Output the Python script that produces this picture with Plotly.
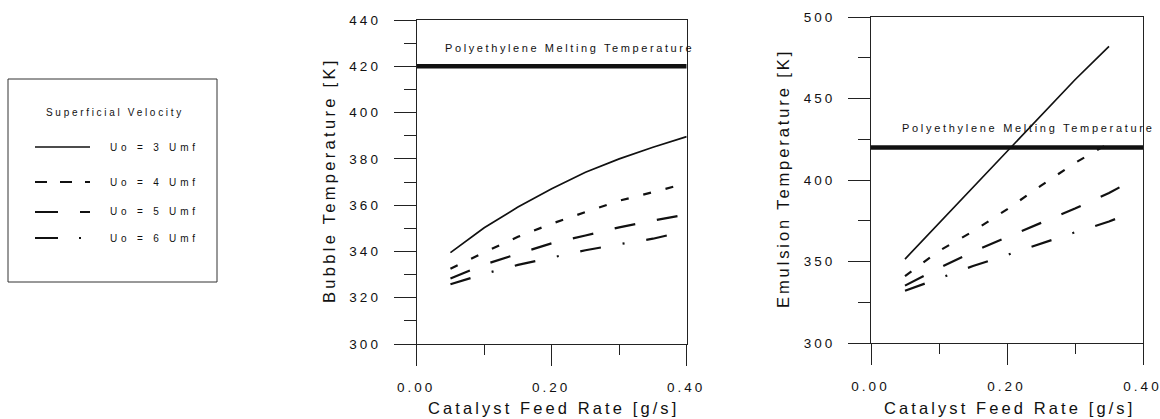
import plotly.graph_objects as go

W, H = 1160, 419

# ---------------- data ----------------
# Left panel: Bubble Temperature [K] vs catalyst feed rate [g/s]
bubble_x = [0.05, 0.10, 0.15, 0.20, 0.25, 0.30, 0.35, 0.40]
bubble_x_6 = [0.05, 0.10, 0.15, 0.20, 0.25, 0.30, 0.35, 0.375]
bubble_u3 = [339.5, 350.2, 359.2, 367.1, 374.2, 380.0, 385.0, 389.6]
bubble_u4 = [332.5, 339.6, 346.3, 352.0, 357.0, 361.9, 365.6, 369.5]
bubble_u5 = [328.3, 334.3, 339.0, 343.5, 346.9, 350.4, 353.3, 356.0]
bubble_u6 = [325.8, 330.3, 334.2, 337.5, 340.5, 343.1, 345.5, 347.2]

# Right panel: Emulsion Temperature [K] vs catalyst feed rate [g/s]
emul_x_3 = [0.05, 0.10, 0.15, 0.20, 0.25, 0.30, 0.35]
emul_u3 = [351.5, 373.5, 395.5, 417.5, 439.5, 461.5, 482.0]
emul_x_4 = [0.05, 0.10, 0.15, 0.20, 0.25, 0.30, 0.35, 0.36]
emul_u4 = [341.0, 356.5, 368.5, 382.0, 396.5, 410.5, 422.5, 425.0]
emul_x_5 = [0.05, 0.10, 0.15, 0.20, 0.25, 0.30, 0.35, 0.37]
emul_u5 = [335.2, 346.0, 356.0, 365.0, 373.7, 382.5, 392.0, 396.5]
emul_x_6 = [0.05, 0.10, 0.15, 0.20, 0.25, 0.30, 0.35, 0.365]
emul_u6 = [332.0, 339.8, 347.2, 354.0, 361.0, 367.9, 374.5, 377.0]

melt_x = [0.0, 0.4]
melt_temp = [420, 420]

series_names = ["Uo = 3 Umf", "Uo = 4 Umf", "Uo = 5 Umf", "Uo = 6 Umf"]

x_tickvals = [0.0, 0.2, 0.4]
x_ticktext = ["0.00", "0.20", "0.40"]
yl_tickvals = [300, 320, 340, 360, 380, 400, 420, 440]
yr_tickvals = [300, 350, 400, 450, 500]

# ---------------- styling ----------------
FONT = "Liberation Sans, Arial, Helvetica, sans-serif"
INK = "#111111"
AX = "#222222"
dash_styles = ["solid", "8px,15px", "21px,22px", "21px,22px,2px,22px"]
line_widths = [1.7, 2.2, 2.2, 2.2]
legend_dashes = ["solid", "12px,13px", "23px,22px", "23px,21px,2px,20px"]


def sp(t, ls):
    # letter-spaced text without trailing spacing after the last glyph
    t = str(t)
    return f'<span style="letter-spacing:{ls}px">{t[:-1]}</span>{t[-1]}'


def px_x(p):
    return p / W


def px_y(p):
    return 1 - p / H


fig = go.Figure()

left_sets = [(bubble_x, bubble_u3), (bubble_x, bubble_u4), (bubble_x, bubble_u5), (bubble_x_6, bubble_u6)]
right_sets = [(emul_x_3, emul_u3), (emul_x_4, emul_u4), (emul_x_5, emul_u5), (emul_x_6, emul_u6)]

for xa, ya, sets in (("x", "y", left_sets), ("x2", "y2", right_sets)):
    fig.add_trace(go.Scatter(x=melt_x, y=melt_temp, mode="lines",
                             line=dict(color=INK, width=4.5), xaxis=xa, yaxis=ya,
                             showlegend=False, hoverinfo="skip"))
    for i, (xs, ys) in enumerate(sets):
        fig.add_trace(go.Scatter(x=xs, y=ys, mode="lines", name=series_names[i],
                                 line=dict(color=INK, width=line_widths[i], dash=dash_styles[i]),
                                 xaxis=xa, yaxis=ya, showlegend=False, hoverinfo="skip"))

tickfont = dict(family=FONT, size=13.5, color=INK)


def xaxis_cfg(domain, anchor):
    return dict(domain=domain, anchor=anchor, range=[0, 0.4], showgrid=False, zeroline=False,
                showline=True, mirror=True, linecolor=AX, linewidth=1.2, automargin=False,
                tickmode="array", tickvals=x_tickvals,
                ticktext=[sp(t, 3) for t in x_ticktext],
                ticks="outside", ticklen=21, tickwidth=1.2, tickcolor=AX,
                minor=dict(dtick=0.1, tick0=0, ticks="outside", ticklen=10, tickwidth=1.2, tickcolor=AX),
                tickfont=tickfont, ticklabelstandoff=10, ticklabelshift=-2,
                ticklabeloverflow="allow", fixedrange=True)


def yaxis_cfg(domain, anchor, rng, vals, minor_dt):
    return dict(domain=domain, anchor=anchor, range=rng, showgrid=False, zeroline=False,
                showline=True, mirror=True, linecolor=AX, linewidth=1.2, automargin=False,
                tickmode="array", tickvals=vals, ticktext=[sp(v, 3) for v in vals],
                ticks="outside", ticklen=22, tickwidth=1.2, tickcolor=AX,
                minor=dict(dtick=minor_dt, tick0=0, ticks="outside", ticklen=12, tickwidth=1.2, tickcolor=AX),
                tickfont=tickfont, ticklabelstandoff=13, ticklabeloverflow="allow",
                fixedrange=True)


annotations = []


def ann(text, xp, yp, size, ls, angle=0, xanchor="center", yanchor="middle"):
    annotations.append(dict(text=sp(text, ls), x=px_x(xp), y=px_y(yp), xref="paper", yref="paper",
                            showarrow=False, textangle=angle, xanchor=xanchor, yanchor=yanchor,
                            font=dict(family=FONT, size=size, color=INK)))


# axis titles
ann("Bubble Temperature [K]", 329, 182, 16.5, 3.3, angle=-90)
ann("Catalyst Feed Rate [g/s]", 552, 408, 16.5, 3.1)
ann("Emulsion Temperature [K]", 783, 180, 16.5, 2.9, angle=-90)
ann("Catalyst Feed Rate [g/s]", 1008, 408, 16.5, 3.1)

# melting-temperature labels
ann("Polyethylene Melting Temperature", 443, 48, 11, 2.6, xanchor="left")
ann("Polyethylene Melting Temperature", 900, 128, 11, 2.7, xanchor="left")

# manual legend box
shapes = [dict(type="rect", xref="paper", yref="paper", x0=px_x(8), x1=px_x(217),
               y0=px_y(282), y1=px_y(79), line=dict(color="#333333", width=1))]
ann("Superficial Velocity", 113, 112, 10, 2.7)
legend_rows = [147, 182, 212, 238]
for i, ry in enumerate(legend_rows):
    shapes.append(dict(type="line", xref="paper", yref="paper", x0=px_x(35), x1=px_x(90),
                       y0=px_y(ry), y1=px_y(ry),
                       line=dict(color=INK, width=1.5 if i == 0 else 2, dash=legend_dashes[i])))
    ann(series_names[i], 108, ry, 10, 3.8, xanchor="left")

fig.update_layout(
    width=W, height=H, margin=dict(l=0, r=0, t=0, b=0, pad=0, autoexpand=False),
    paper_bgcolor="white", plot_bgcolor="white", showlegend=False,
    xaxis=xaxis_cfg([416.7 / W, 686.7 / W], "y"),
    yaxis=yaxis_cfg([1 - 344 / H, 1 - 20 / H], "x", [300, 440], yl_tickvals, 10),
    xaxis2=xaxis_cfg([871 / W, 1143 / W], "y2"),
    yaxis2=yaxis_cfg([1 - 343 / H, 1 - 17 / H], "x2", [300, 500], yr_tickvals, 25),
    annotations=annotations, shapes=shapes,
)

fig.write_html("out.html")
